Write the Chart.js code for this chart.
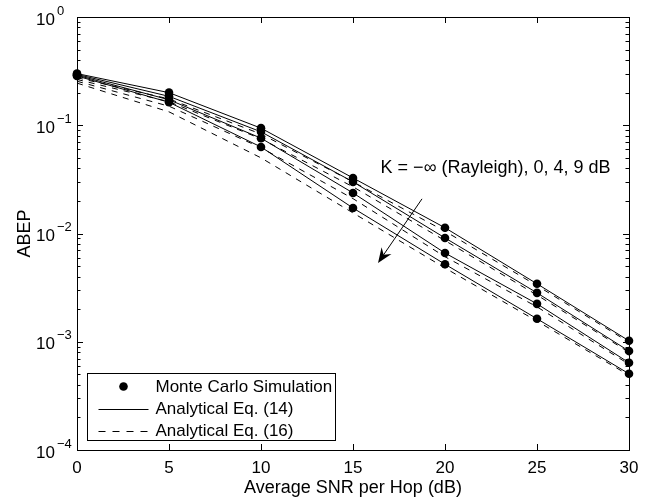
<!DOCTYPE html>
<html>
<head>
<meta charset="utf-8">
<script src="https://cdn.jsdelivr.net/npm/chart.js@4.4.1/dist/chart.umd.min.js"></script>
<style>
  html, body { margin: 0; padding: 0; background: #fff; }
  #wrap { width: 649px; height: 500px; position: relative; }
</style>
</head>
<body>
<div id="wrap"><canvas id="abep_chart"></canvas></div>
<script>
// x axis: average SNR per hop (dB)
const snr_db = [0, 5, 10, 15, 20, 25, 30];

// Monte Carlo simulation points, K = -inf (Rayleigh), 0, 4, 9 dB
const sim_rayleigh = [0.300, 0.200, 0.094, 0.0326, 0.0113, 0.00343, 0.00102];
const sim_k0       = [0.295, 0.185, 0.087, 0.0300, 0.0091, 0.00283, 0.00082];
const sim_k4       = [0.290, 0.172, 0.076, 0.0237, 0.0066, 0.00224, 0.00064];
const sim_k9       = [0.285, 0.163, 0.063, 0.0172, 0.0052, 0.00163, 0.000506];

// Analytical Eq. (14) - exact, runs through the simulation dots
const eq14_rayleigh = [0.300, 0.200, 0.094, 0.0326, 0.0113, 0.00343, 0.00102];
const eq14_k0       = [0.295, 0.185, 0.087, 0.0300, 0.0091, 0.00283, 0.00082];
const eq14_k4       = [0.290, 0.172, 0.076, 0.0237, 0.0066, 0.00224, 0.00064];
const eq14_k9       = [0.285, 0.163, 0.063, 0.0172, 0.0052, 0.00163, 0.000506];

// Analytical Eq. (16) - approximation, dashed
const eq16_rayleigh = [0.275, 0.175, 0.083, 0.0300, 0.0105, 0.00330, 0.00099];
const eq16_k0       = [0.265, 0.165, 0.075, 0.0270, 0.0086, 0.00270, 0.00080];
const eq16_k4       = [0.255, 0.150, 0.062, 0.0210, 0.0061, 0.00210, 0.00062];
const eq16_k9       = [0.245, 0.133, 0.050, 0.0155, 0.0048, 0.00155, 0.00049];

const x_ticks = [0, 5, 10, 15, 20, 25, 30];
const y_tick_exp = [0, -1, -2, -3, -4];
const legend_labels = ['Monte Carlo Simulation', 'Analytical Eq. (14)', 'Analytical Eq. (16)'];

// annotation text + arrow (data coords)
const note_text = 'K = \u2212\u221E (Rayleigh), 0, 4, 9 dB';
const note_pos = [16.5, 0.0403];
const arrow_from = [18.75, 0.0209];
const arrow_to = [16.36, 0.00535];

const FONT = '"Liberation Sans", Arial, Helvetica, sans-serif';

function toPoints(ys) {
  return snr_db.map((x, i) => ({ x: x, y: ys[i] }));
}

function simSet(ys) {
  return {
    label: legend_labels[0], data: toPoints(ys), showLine: false,
    pointRadius: 4.3, pointBackgroundColor: '#000', pointBorderWidth: 0,
    clip: false, order: 0
  };
}
function eq14Set(ys) {
  return {
    label: legend_labels[1], data: toPoints(ys), showLine: true, borderColor: '#000',
    borderWidth: 1, pointRadius: 0, fill: false, clip: false, order: 1
  };
}
function eq16Set(ys) {
  return {
    label: legend_labels[2], data: toPoints(ys), showLine: true, borderColor: '#000',
    borderWidth: 1, borderDash: [6, 6], pointRadius: 0, fill: false, clip: false, order: 2
  };
}

const datasets = [
  eq16Set(eq16_rayleigh), eq16Set(eq16_k0), eq16Set(eq16_k4), eq16Set(eq16_k9),
  eq14Set(eq14_rayleigh), eq14Set(eq14_k0), eq14Set(eq14_k4), eq14Set(eq14_k9),
  simSet(sim_rayleigh), simSet(sim_k0), simSet(sim_k4), simSet(sim_k9)
];

// frame, inward ticks, y labels, annotation and legend
const decorations = {
  id: 'decorations',
  afterDatasetsDraw(chart) {
    const { ctx, chartArea: a, scales: { x, y } } = chart;
    ctx.save();
    ctx.strokeStyle = '#000';
    ctx.fillStyle = '#000';
    ctx.lineWidth = 1;

    // box
    ctx.strokeRect(Math.round(a.left) + 0.5, Math.round(a.top) + 0.5,
      Math.round(a.right - a.left), Math.round(a.bottom - a.top));

    ctx.beginPath();
    // x ticks, bottom and top
    x_ticks.forEach(v => {
      const px = Math.round(x.getPixelForValue(v)) + 0.5;
      ctx.moveTo(px, a.bottom); ctx.lineTo(px, a.bottom - 6);
      ctx.moveTo(px, a.top); ctx.lineTo(px, a.top + 6);
    });
    // y ticks, major + minor on both sides
    y_tick_exp.forEach(e => {
      for (let m = 1; m <= 9; m++) {
        const v = m * Math.pow(10, e);
        if (v > 1.0001) continue;
        const py = Math.round(y.getPixelForValue(v)) + 0.5;
        const len = m === 1 ? 6 : 3.5;
        ctx.moveTo(a.left, py); ctx.lineTo(a.left + len, py);
        ctx.moveTo(a.right, py); ctx.lineTo(a.right - len, py);
      }
    });
    ctx.stroke();

    // y tick labels 10^e
    y_tick_exp.forEach(e => {
      const py = y.getPixelForValue(Math.pow(10, e));
      ctx.font = '17px ' + FONT;
      ctx.textAlign = 'right';
      ctx.textBaseline = 'middle';
      ctx.fillText('10', 55, py + 3);
      ctx.font = '13px ' + FONT;
      ctx.textAlign = 'left';
      ctx.fillText(String(e).replace('-', '\u2212'), 57, py - 6);
    });

    // annotation text
    ctx.font = '18px ' + FONT;
    ctx.textAlign = 'left';
    ctx.textBaseline = 'middle';
    ctx.fillText(note_text, x.getPixelForValue(note_pos[0]), y.getPixelForValue(note_pos[1]));

    // arrow
    const x0 = x.getPixelForValue(arrow_from[0]), y0 = y.getPixelForValue(arrow_from[1]);
    const x1 = x.getPixelForValue(arrow_to[0]), y1 = y.getPixelForValue(arrow_to[1]);
    const ang = Math.atan2(y1 - y0, x1 - x0);
    const headLen = 15, headW = 6;
    ctx.beginPath();
    ctx.moveTo(x0, y0);
    ctx.lineTo(x1 - Math.cos(ang) * 9, y1 - Math.sin(ang) * 9);
    ctx.stroke();
    ctx.beginPath();
    ctx.moveTo(x1, y1);
    ctx.lineTo(x1 - Math.cos(ang) * headLen - Math.sin(ang) * headW,
               y1 - Math.sin(ang) * headLen + Math.cos(ang) * headW);
    ctx.lineTo(x1 - Math.cos(ang) * 10, y1 - Math.sin(ang) * 10);
    ctx.lineTo(x1 - Math.cos(ang) * headLen + Math.sin(ang) * headW,
               y1 - Math.sin(ang) * headLen - Math.cos(ang) * headW);
    ctx.closePath();
    ctx.fill();

    // legend box
    const bl = Math.round(a.left) + 10.5, bw = 248, bh = 67;
    const bt = Math.round(a.bottom) - 9.5 - bh;
    ctx.fillStyle = '#fff';
    ctx.fillRect(bl, bt, bw, bh);
    ctx.strokeRect(bl, bt, bw, bh);
    ctx.fillStyle = '#000';
    const rows = [bt + 13, bt + 35, bt + 57];
    // dot
    ctx.beginPath();
    ctx.arc(bl + 36, rows[0], 4.3, 0, Math.PI * 2);
    ctx.fill();
    // solid
    ctx.beginPath();
    ctx.moveTo(bl + 11, Math.round(rows[1]) + 0.5); ctx.lineTo(bl + 61, Math.round(rows[1]) + 0.5);
    ctx.stroke();
    // dashed
    ctx.setLineDash([7, 7]);
    ctx.beginPath();
    ctx.moveTo(bl + 11, Math.round(rows[2]) + 0.5); ctx.lineTo(bl + 61, Math.round(rows[2]) + 0.5);
    ctx.stroke();
    ctx.setLineDash([]);
    ctx.font = '17px ' + FONT;
    ctx.textAlign = 'left';
    ctx.textBaseline = 'middle';
    legend_labels.forEach((t, i) => ctx.fillText(t, bl + 68, rows[i] + 1));

    ctx.restore();
  }
};

const ctx = document.getElementById('abep_chart').getContext('2d');
new Chart(ctx, {
  type: 'scatter',
  data: { datasets: datasets },
  options: {
    responsive: true,
    maintainAspectRatio: false,
    animation: false,
    events: [],
    layout: { padding: { left: 0, right: 20, top: 17, bottom: 0 } },
    plugins: { legend: { display: false }, tooltip: { enabled: false } },
    scales: {
      x: {
        type: 'linear', min: 0, max: 30,
        afterBuildTicks: s => { s.ticks = x_ticks.map(v => ({ value: v })); },
        afterFit: s => { s.height = 50; },
        grid: { display: false, drawTicks: false },
        border: { display: false },
        ticks: { padding: 8, color: '#000', font: { family: FONT, size: 17 } },
        title: {
          display: true, text: 'Average SNR per Hop (dB)', color: '#000',
          font: { family: FONT, size: 18 }, padding: { top: 0, bottom: 1 }
        }
      },
      y: {
        type: 'logarithmic', min: 1e-4, max: 1,
        afterFit: s => { s.width = 77; },
        grid: { display: false, drawTicks: false },
        border: { display: false },
        ticks: { display: false },
        title: {
          display: true, text: 'ABEP', color: '#000',
          font: { family: FONT, size: 18 }, padding: { top: 14, bottom: 0 }
        }
      }
    }
  },
  plugins: [decorations]
});
</script>
</body>
</html>
